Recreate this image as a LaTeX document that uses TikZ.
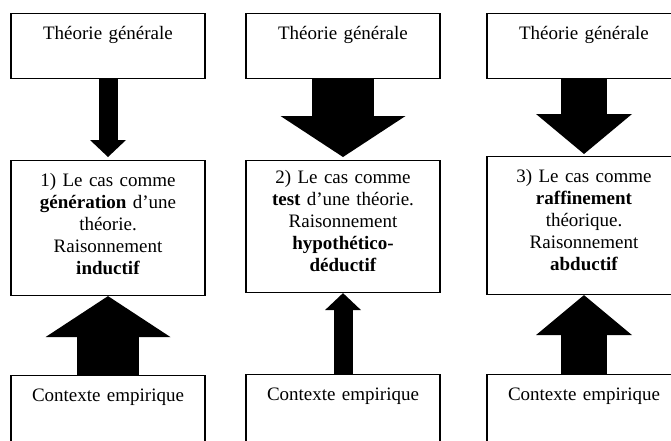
\documentclass[tikz,border=0pt]{standalone}
\usepackage{fontspec}
\setmainfont{Liberation Serif}
\usetikzlibrary{arrows.meta,positioning}
\tikzset{
cadre/.style={draw,line width=1.1pt,inner xsep=7pt,inner ysep=0pt,text width=180pt,align=center,anchor=north,font=\fontsize{19}{22}\selectfont},
petite/.style={line width=19pt,-{Triangle[width=36pt,length=17pt,line width=0pt]}},
moyenne/.style={line width=46pt,-{Triangle[width=96pt,length=40pt,line width=0pt]}},
grande/.style={line width=62pt,-{Triangle[width=125pt,length=41pt,line width=0pt]}}
}
\begin{document}
\begin{tikzpicture}[x=1pt,y=-1pt]
\useasboundingbox (0,0) rectangle (671,440);
\clip (0,0) rectangle (671,440);
\node[cadre,text height=26pt,text depth=39pt](t1) at (108,13){Théorie générale};
\node[cadre,text height=26pt,text depth=39pt](t2) at (343,13){Théorie générale};
\node[cadre,text height=26pt,text depth=39pt](t3) at (584,13){Théorie générale};
\node[cadre,text height=25.5pt,text depth=109.5pt](m1) at (108,160){1) Le cas comme\\\textbf{génération} d’une\\théorie.\\Raisonnement\\\textbf{inductif}};
\node[cadre,text height=23pt,text depth=109pt](m2) at (343,160){2) Le cas comme\\\textbf{test} d’une théorie.\\Raisonnement\\\textbf{hypothético-}\\\textbf{déductif}};
\node[cadre,text height=26pt,text depth=112pt](m3) at (584,156){3) Le cas comme\\\textbf{raffinement}\\théorique.\\Raisonnement\\\textbf{abductif}};
\node[cadre,text height=26pt,text depth=74pt](b1) at (108,375){Contexte empirique};
\node[cadre,text height=26pt,text depth=74pt](b2) at (343,374){Contexte empirique};
\node[cadre,text height=26pt,text depth=74pt](b3) at (584,374){Contexte empirique};
\draw[petite,shorten >=3pt](t1)--(m1);
\draw[grande,shorten >=3pt](t2)--(m2);
\draw[moyenne,shorten >=2pt](t3)--(m3);
\draw[grande](b1)--(m1);
\draw[petite](b2)--(m2);
\draw[moyenne](b3)--(m3);
\end{tikzpicture}
\end{document}
